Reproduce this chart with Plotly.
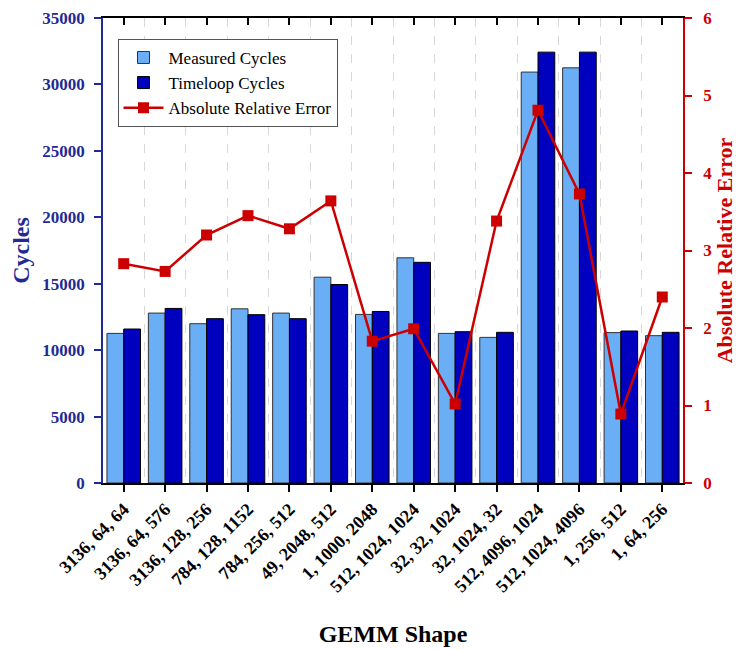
import plotly.graph_objects as go

categories = ["3136, 64, 64", "3136, 64, 576", "3136, 128, 256", "784, 128, 1152",
              "784, 256, 512", "49, 2048, 512", "1, 1000, 2048", "512, 1024, 1024",
              "32, 32, 1024", "32, 1024, 32", "512, 4096, 1024", "512, 1024, 4096",
              "1, 256, 512", "1, 64, 256"]
measured = [11260, 12790, 11990, 13110, 12790, 15490, 12690, 16950,
            11260, 10960, 30930, 31250, 11320, 11090]
timeloop = [11590, 13140, 12370, 12670, 12370, 14940, 12910, 16610,
            11390, 11340, 32430, 32430, 11440, 11340]
abs_rel_error = [2.83, 2.73, 3.20, 3.45, 3.28, 3.64, 1.83, 1.99,
                 1.02, 3.38, 4.81, 3.73, 0.89, 2.40]
y_ticks = [0, 5000, 10000, 15000, 20000, 25000, 30000, 35000]
y2_ticks = [0, 1, 2, 3, 4, 5, 6]

x = list(range(len(categories)))
FONT = "Liberation Serif"
BLUE_AX = "#1F2A94"
RED = "#CC0000"

fig = go.Figure()
fig.add_trace(go.Bar(x=x, y=measured, name="Measured Cycles",
                     marker=dict(color="#6AAEF5", line=dict(color="#333333", width=1))))
fig.add_trace(go.Bar(x=x, y=timeloop, name="Timeloop Cycles",
                     marker=dict(color="#0000BF", line=dict(color="#000000", width=1))))
fig.add_trace(go.Scatter(x=x, y=abs_rel_error, name="Absolute Relative Error", yaxis="y2",
                         mode="lines+markers", line=dict(color=RED, width=2.5),
                         marker=dict(symbol="square", size=11, color=RED)))
# invisible helper so the mirrored top axis (with inward ticks) is drawn
fig.add_trace(go.Scatter(x=x, y=measured, xaxis="x2", mode="markers",
                         marker=dict(opacity=0), showlegend=False, hoverinfo="skip"))

fig.update_layout(
    width=739, height=641,
    margin=dict(l=95, r=64, t=10, b=166),
    paper_bgcolor="white", plot_bgcolor="white",
    barmode="group", bargap=0.19, bargroupgap=0,
    font=dict(family=FONT, size=15, color="black"),
    showlegend=True,
    legend=dict(x=0.025, y=0.955, xanchor="left", yanchor="top",
                bordercolor="#555555", borderwidth=1, bgcolor="white",
                font=dict(family=FONT, size=17, color="black"),
                tracegroupgap=0, itemwidth=40),
    xaxis=dict(range=[-0.5, len(categories) - 0.5], tickvals=x, ticktext=categories,
               tickangle=-45, ticks="outside", ticklen=7, tickwidth=1.5, tickcolor="black",
               showline=True, linecolor="black", linewidth=1.5,
               showgrid=False, zeroline=False, automargin=False,
               tickfont=dict(family=FONT, size=18, color="black", weight="bold"),
               minor=dict(tick0=0.5, dtick=1, showgrid=True, gridcolor="#D8D8D8",
                          griddash="dash", gridwidth=1, ticks=""),
               title=dict(text="<b>GEMM Shape</b>", font=dict(family=FONT, size=24, color="black"),
                          standoff=30)),
    xaxis2=dict(overlaying="x", side="top", range=[-0.5, len(categories) - 0.5],
                tickvals=x, showticklabels=False, ticks="inside", ticklen=7, tickwidth=1.5,
                tickcolor="black", showline=True, linecolor="black", linewidth=1.5,
                showgrid=False, zeroline=False, automargin=False),
    yaxis=dict(range=[0, 35000], tickvals=y_ticks, tickformat="d", ticks="outside",
               ticklen=7, tickwidth=1.5, ticklabelstandoff=6, ticklabeloverflow="allow",
               tickcolor=BLUE_AX, showline=True, linecolor=BLUE_AX, linewidth=1.5,
               showgrid=False, zeroline=False, automargin=False,
               tickfont=dict(family=FONT, size=17, color=BLUE_AX, weight="bold"),
               title=dict(text="<b>Cycles</b>", font=dict(family=FONT, size=24, color=BLUE_AX),
                          standoff=8)),
    yaxis2=dict(range=[0, 6], tickvals=y2_ticks, overlaying="y", side="right",
                ticks="outside", ticklen=7, tickwidth=1.5, tickcolor=RED,
                ticklabelstandoff=8, ticklabeloverflow="allow",
                showline=True, linecolor=RED, linewidth=1.5,
                showgrid=False, zeroline=False, automargin=False,
                tickfont=dict(family=FONT, size=17, color=RED, weight="bold"),
                title=dict(text="<b>Absolute Relative Error</b>",
                           font=dict(family=FONT, size=22, color=RED), standoff=2)),
)

fig.write_html("out.html")
